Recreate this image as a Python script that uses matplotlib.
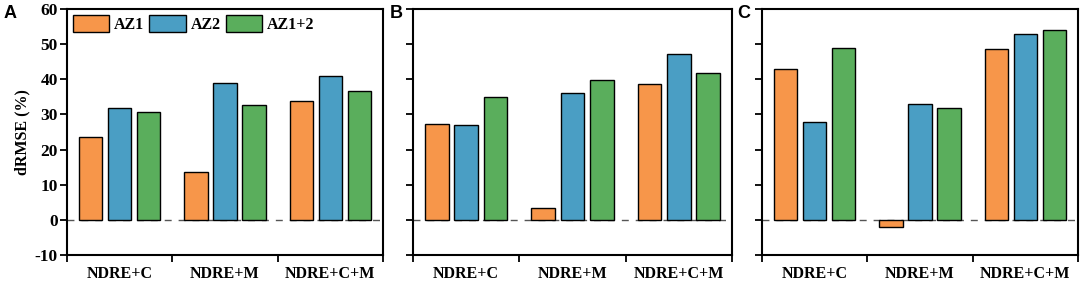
import matplotlib
matplotlib.use("Agg")
import matplotlib.pyplot as plt
import numpy as np

categories = ["NDRE+C", "NDRE+M", "NDRE+C+M"]
series = ["AZ1", "AZ2", "AZ1+2"]
panels = ["A", "B", "C"]
A_AZ1 = [23.5, 13.6, 33.8]
A_AZ2 = [31.9, 38.9, 40.9]
A_AZ12 = [30.6, 32.8, 36.7]
B_AZ1 = [27.3, 3.5, 38.7]
B_AZ2 = [27.1, 36.0, 47.3]
B_AZ12 = [35.1, 39.8, 41.7]
C_AZ1 = [42.9, -2.1, 48.6]
C_AZ2 = [27.9, 33.0, 52.8]
C_AZ12 = [48.9, 31.8, 54.1]
yticks = [-10, 0, 10, 20, 30, 40, 50, 60]

data = {"A": [A_AZ1, A_AZ2, A_AZ12],
        "B": [B_AZ1, B_AZ2, B_AZ12],
        "C": [C_AZ1, C_AZ2, C_AZ12]}
colors = ["#F7964A", "#4A9EC4", "#5AAE5C"]

plt.rcParams["font.family"] = ["Liberation Serif", "DejaVu Serif"]
plt.rcParams["font.weight"] = "bold"

fig = plt.figure(figsize=(10.84, 2.83), dpi=100)
lefts = [67, 413, 762]
rights = [383, 732, 1078]
letter_x = [4, 390, 737]
W, H = 1084.0, 283.0
top_px, bot_px = 9, 255

x = np.arange(len(categories))
offsets = [-0.276, 0.0, 0.276]
width = 0.22

for i, p in enumerate(panels):
    ax = fig.add_axes([lefts[i] / W, 1 - bot_px / H, (rights[i] - lefts[i]) / W, (bot_px - top_px) / H])
    for j, s in enumerate(series):
        ax.bar(x + offsets[j], data[p][j], width, color=colors[j], edgecolor="black",
               linewidth=1.0, label=s, zorder=3)
    ax.axhline(0, color="#555555", linestyle=(0, (5, 5)), linewidth=1.0, zorder=2)
    ax.set_xlim(-0.5, 2.5)
    ax.set_ylim(-10, 60)
    ax.set_yticks(yticks)
    ax.set_xticks([-0.5, 0.5, 1.5, 2.5])
    ax.set_xticklabels([])
    ax.set_xticks(x, minor=True)
    ax.set_xticklabels(categories, minor=True, fontsize=11.5, fontweight="bold")
    ax.tick_params(axis="x", which="minor", length=0, pad=8)
    ax.tick_params(axis="x", which="major", length=5, width=1.3, direction="out")
    ax.tick_params(axis="y", length=5, width=1.3, direction="out", pad=1.5)
    for sp in ax.spines.values():
        sp.set_linewidth(1.5)
    if i == 0:
        ax.set_yticklabels([str(t) for t in yticks], fontsize=12.5, fontweight="bold")
        ax.set_ylabel("dRMSE (%)", fontsize=11.5, fontweight="bold", labelpad=3)
        ax.legend(loc="upper left", ncol=3, frameon=False,
                  handlelength=2.3, handleheight=1.3, handletextpad=0.3,
                  columnspacing=0.3, borderaxespad=0.15, borderpad=0.2,
                  prop={"weight": "bold", "size": 11.5})
    else:
        ax.set_yticklabels([])
    fig.text(letter_x[i] / W, 1 - 13 / H, p, fontsize=13, fontweight="bold",
             family=["Liberation Sans", "DejaVu Sans"], va="center", ha="left")

fig.savefig("out.png", dpi=100)
